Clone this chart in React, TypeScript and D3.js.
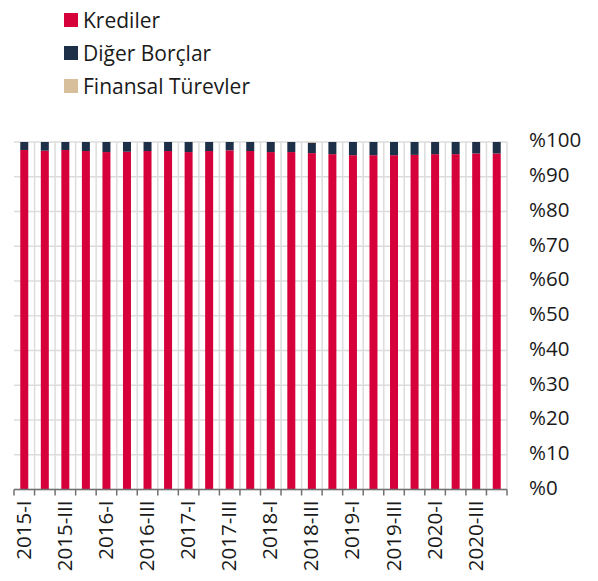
import React from "react";
import * as d3 from "d3";

const quarters = [
  "2015-I", "2015-II", "2015-III", "2015-IV",
  "2016-I", "2016-II", "2016-III", "2016-IV",
  "2017-I", "2017-II", "2017-III", "2017-IV",
  "2018-I", "2018-II", "2018-III", "2018-IV",
  "2019-I", "2019-II", "2019-III", "2019-IV",
  "2020-I", "2020-II", "2020-III", "2020-IV",
];

const krediler = [97.7, 97.5, 97.7, 97.4, 97.1, 97.2, 97.4, 97.4, 97.1, 97.4, 97.6, 97.4, 97.1, 97.1, 96.8, 96.5, 96.2, 96.2, 96.2, 96.3, 96.5, 96.5, 96.7, 96.7];
const digerBorclar = [2.3, 2.5, 2.3, 2.6, 2.9, 2.8, 2.6, 2.6, 2.9, 2.6, 2.4, 2.6, 2.9, 2.9, 3.0, 3.5, 3.8, 3.8, 3.8, 3.7, 3.5, 3.5, 3.3, 3.3];
const finansalTurevler = [0, 0, 0, 0, 0, 0, 0, 0, 0, 0, 0, 0, 0, 0, 0.2, 0, 0, 0, 0, 0, 0, 0, 0, 0];

const seriesNames = ["Krediler", "Diğer Borçlar", "Finansal Türevler"];
const seriesColors = ["#d6003a", "#1d3047", "#d6bf9a"];
const yTicks = [0, 10, 20, 30, 40, 50, 60, 70, 80, 90, 100];

const W = 598, H = 581;
const margin = { top: 142, right: 91, bottom: 91.5, left: 14 };
const FONT = "'Open Sans', sans-serif";
const AXIS_FS = 20.5;

export default function App() {
  const innerW = W - margin.left - margin.right;
  const innerH = H - margin.top - margin.bottom;

  const rows = quarters.map((q, i) => ({
    q,
    k0: krediler[i],
    k1: digerBorclar[i],
    k2: finansalTurevler[i],
  }));

  const x = d3.scaleBand().domain(quarters).range([0, innerW]).paddingInner(0).paddingOuter(0);
  const y = d3.scaleLinear().domain([0, 100]).range([innerH, 0]);
  const stack = d3.stack<any>().keys(["k0", "k1", "k2"]);
  const layers = stack(rows);
  const bw = 8;

  return (
    <svg width={W} height={H} style={{ display: "block", margin: "-8px" }} fontFamily={FONT}>
      {/* legend */}
      {seriesNames.map((name, i) => (
        <g key={name} transform={`translate(64, ${13 + i * 33})`}>
          <rect width={14} height={14} fill={seriesColors[i]} />
          <text x={19} y={14.5} fontSize={21} fill="#1a1a1a">{name}</text>
        </g>
      ))}

      <g transform={`translate(${margin.left}, ${margin.top})`}>
        {/* grid */}
        {yTicks.map((t) => (
          <line key={"h" + t} x1={0} x2={innerW} y1={y(t)} y2={y(t)} stroke="#dcdcdc" strokeWidth={1.5} />
        ))}
        {quarters.map((q) => (
          <line key={"v" + q} x1={x(q)! + x.bandwidth()} x2={x(q)! + x.bandwidth()} y1={0} y2={innerH} stroke="#dcdcdc" strokeWidth={1.5} />
        ))}

        {/* bars */}
        {layers.map((layer, li) => (
          <g key={li} fill={seriesColors[li]}>
            {layer.map((d: any) => {
              const h = y(d[0]) - y(d[1]);
              if (h <= 0) return null;
              return (
                <rect
                  key={d.data.q}
                  x={x(d.data.q)! + (x.bandwidth() - bw) / 2}
                  y={y(d[1])}
                  width={bw}
                  height={h}
                />
              );
            })}
          </g>
        ))}

        {/* x axis */}
        <line x1={0} x2={innerW} y1={innerH} y2={innerH} stroke="#707070" strokeWidth={1.5} />
        {[0, ...quarters.map((q) => x(q)! + x.bandwidth())].map((px, i) => (
          <line key={"t" + i} x1={px} x2={px} y1={innerH} y2={innerH + 6} stroke="#707070" strokeWidth={1.5} />
        ))}
        {quarters.map((q, i) =>
          i % 2 === 0 ? (
            <text
              key={"l" + q}
              transform={`translate(${x(q)! + x.bandwidth() / 2 + 1}, ${innerH + 11}) rotate(-90)`}
              textAnchor="end"
              dominantBaseline="middle"
              fontSize={AXIS_FS}
              fill="#1a1a1a"
            >
              {q}
            </text>
          ) : null
        )}

        {/* y axis labels on the right */}
        {yTicks.map((t) => (
          <text key={"y" + t} x={innerW + 22} y={y(t)} dominantBaseline="middle" fontSize={AXIS_FS} fill="#1a1a1a">
            {"%" + t}
          </text>
        ))}
      </g>
    </svg>
  );
}
